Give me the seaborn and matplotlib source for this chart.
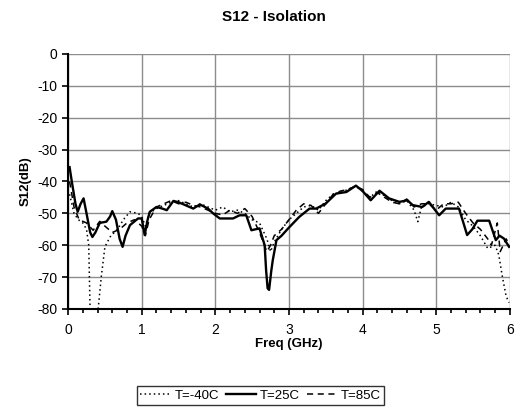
import numpy as np
import pandas as pd
import matplotlib
matplotlib.use("Agg")
import matplotlib.pyplot as plt
import seaborn as sns
from matplotlib.ticker import MultipleLocator

# T=25C (solid)
freq_25 = [0.02, 0.05, 0.1, 0.13, 0.17, 0.21, 0.25, 0.3, 0.33, 0.37, 0.43, 0.52, 0.57, 0.6,
           0.65, 0.7, 0.74, 0.78, 0.84, 0.95, 1.0, 1.04, 1.08, 1.11, 1.2, 1.28, 1.34, 1.43,
           1.5, 1.6, 1.7, 1.79, 1.9, 1.97, 2.06, 2.24, 2.33, 2.42, 2.49, 2.6, 2.67, 2.69,
           2.71, 2.73, 2.76, 2.78, 2.83, 2.9, 2.99, 3.14, 3.28, 3.37, 3.5, 3.64, 3.78, 3.91,
           4.0, 4.11, 4.23, 4.36, 4.5, 4.61, 4.68, 4.81, 4.9, 5.04, 5.13, 5.31, 5.37, 5.42,
           5.49, 5.56, 5.72, 5.81, 5.86, 5.92, 5.99]
s12_25 = [-35.5, -40, -47, -49.5, -47, -45.3, -50, -56, -57.4, -56, -53, -52.6, -51, -49.3,
          -52, -58, -60.5, -57, -53.7, -51.6, -51.6, -56.8, -52, -49.5, -48, -48.5, -49, -46.1,
          -46.5, -47.5, -48.5, -47.2, -48.5, -50, -51.6, -51.6, -50.6, -50.6, -55.3, -54.7, -60, -68,
          -73.5, -74, -68, -64.7, -58.4, -57, -54.7, -51.1, -48.5, -48.5, -46.9, -43.8, -43.3, -41.3,
          -43, -45.9, -42.9, -45.3, -46.4, -45.9, -47.4, -48, -46.4, -50.6, -48.5, -48.5, -53, -56.8,
          -55, -52.3, -52.3, -58.4, -57, -57.9, -60.5]

# T=-40C (dotted)
freq_m40 = [0.02, 0.08, 0.14, 0.2, 0.25, 0.28, 0.3, 0.35, 0.4, 0.45, 0.5, 0.57, 0.68, 0.75,
            0.84, 0.95, 1.0, 1.05, 1.1, 1.2, 1.4, 1.5, 1.7, 1.8, 2.0, 2.1, 2.2, 2.3, 2.4, 2.5,
            2.6, 2.7, 2.75, 2.8, 2.9, 3.0, 3.1, 3.2, 3.3, 3.4, 3.5, 3.6, 3.7, 3.8, 3.9, 4.0,
            4.1, 4.2, 4.3, 4.4, 4.5, 4.6, 4.7, 4.75, 4.8, 4.9, 5.0, 5.1, 5.2, 5.3, 5.4, 5.5,
            5.6, 5.7, 5.8, 5.85, 5.9, 5.95, 5.99]
s12_m40 = [-44, -50, -52, -53, -55, -60, -82, -92, -82, -70, -60.5, -57.4, -54.7, -52,
           -49.5, -50, -51, -54, -50, -48.5, -46.5, -46, -48, -47, -49, -48, -49.5, -49, -50, -52,
           -53, -58, -62, -59, -55, -52, -50, -48, -47.5, -49, -46, -44, -43.5, -42.5, -41.5, -43,
           -45, -43, -44.5, -46, -47, -46, -49, -52.6, -48, -47, -47.5, -48, -46.5, -48, -52, -54,
           -57, -61, -60, -63, -70, -76, -78]

# T=85C (dashed)
freq_85 = [0.02, 0.08, 0.15, 0.25, 0.34, 0.43, 0.5, 0.6, 0.7, 0.8, 0.9, 1.0, 1.05, 1.1,
           1.2, 1.3, 1.4, 1.5, 1.6, 1.7, 1.8, 1.9, 2.0, 2.1, 2.2, 2.3, 2.4, 2.5, 2.6, 2.7,
           2.75, 2.8, 2.9, 3.0, 3.1, 3.2, 3.3, 3.4, 3.5, 3.6, 3.7, 3.8, 3.9, 4.0, 4.1, 4.2,
           4.3, 4.4, 4.5, 4.6, 4.7, 4.8, 4.9, 5.0, 5.1, 5.2, 5.3, 5.4, 5.5, 5.6, 5.7, 5.75,
           5.83, 5.87, 5.95, 6.0]
s12_85 = [-40, -48, -52, -53, -55.3, -52.5, -54, -56, -55, -53, -52, -54, -57, -52,
          -48, -47, -46, -47, -46.5, -47.5, -48, -49, -50, -50.5, -49, -50, -48.5, -51, -56, -62,
          -60, -57, -55, -52, -49, -47, -47.5, -50, -47, -44, -43, -42.5, -41.5, -42.5, -45, -43.5,
          -45, -46.5, -47, -45.5, -48, -47, -47, -49, -47, -47, -46.5, -50, -53, -55, -58, -60,
          -53, -62, -58, -60]

plt.rcParams["font.family"] = ["Liberation Sans", "DejaVu Sans"]
plt.rcParams["axes.unicode_minus"] = False

fig = plt.figure(figsize=(5.16, 4.12), dpi=100)
ax = fig.add_axes([0.132, 0.25, 0.856, 0.619])

sns.lineplot(x=freq_m40, y=s12_m40, ax=ax, color="black", lw=1.1,
             linestyle=(0, (1, 2)), label="T=-40C", sort=False, estimator=None)
sns.lineplot(x=freq_25, y=s12_25, ax=ax, color="black", lw=1.7,
             label="T=25C", sort=False, estimator=None)
sns.lineplot(x=freq_85, y=s12_85, ax=ax, color="black", lw=1.1,
             linestyle=(0, (4, 3)), label="T=85C", sort=False, estimator=None)

ax.set_xlim(0, 6)
ax.set_ylim(-80, 0)
ax.xaxis.set_major_locator(MultipleLocator(1))
ax.xaxis.set_minor_locator(MultipleLocator(0.2))
ax.yaxis.set_major_locator(MultipleLocator(10))
ax.grid(True, which="major", color="#8c8c8c", lw=1.0)
ax.set_axisbelow(True)
for s in ["top", "right"]:
    ax.spines[s].set_visible(False)
for s in ["left", "bottom"]:
    ax.spines[s].set_color("black")
    ax.spines[s].set_linewidth(1.5)
ax.tick_params(axis="both", which="major", direction="out", length=4, width=1.2,
               labelsize=10, colors="black")
ax.tick_params(axis="x", which="minor", direction="out", length=3, width=1.2)
ax.tick_params(axis="x", which="both", pad=6)

fig.suptitle("S12 - Isolation", fontsize=11, fontweight="bold", x=0.53, y=0.975)
ax.set_xlabel("Freq (GHz)", fontsize=9.5, fontweight="bold", labelpad=1)
ax.set_ylabel("S12(dB)", fontsize=9.5, fontweight="bold", labelpad=4)

handles, labels = ax.get_legend_handles_labels()
ax.get_legend().remove()
leg = fig.legend(handles, labels, loc="center", bbox_to_anchor=(0.505, 0.04), ncol=3,
                 frameon=True, fancybox=False, edgecolor="black", fontsize=9.5,
                 handlelength=2.3, handletextpad=0.3, columnspacing=0.5, borderpad=0.25)
leg.get_frame().set_linewidth(1.0)

fig.savefig("out.png", dpi=100)
